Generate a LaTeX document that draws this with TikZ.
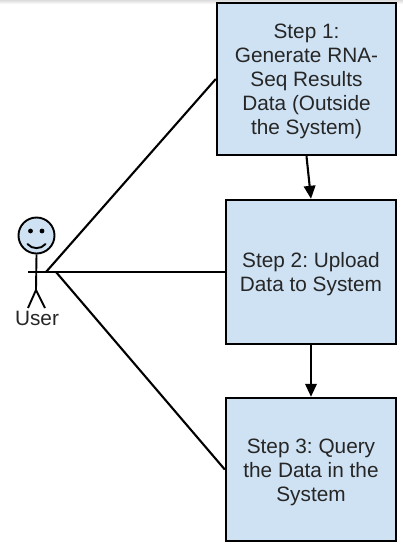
\documentclass[tikz,border=0pt]{standalone}
\usepackage{fontspec}
\setmainfont{Liberation Sans}
\usetikzlibrary{arrows.meta}
\definecolor{boxfill}{HTML}{CFE2F3}
\newcommand{\toppad}{\rule{0pt}{19.5pt}}
\tikzset{
  stepbox/.style={draw=black,line width=2.4pt,fill=boxfill,inner sep=0pt,align=center,
    font=\fontsize{20.8pt}{24pt}\selectfont\frenchspacing,text=black!85},
  link/.style={draw=black,line width=2.1pt},
  flow/.style={link,-{Triangle[length=13pt,width=11.5pt]}},
  actor/.style={draw=black,line width=1.9pt}
}
\begin{document}
\begin{tikzpicture}[x=1pt,y=-1pt]
\useasboundingbox (0,0) rectangle (403,547);
\fill[white] (0,0) rectangle (403,547);
\shade[top color=black!14,bottom color=white] (0,0) rectangle (403,4);
\node[stepbox,minimum width=179pt,minimum height=152pt] (s1) at (306.5,79) {\toppad Step 1:\\Generate RNA-\\Seq Results\\Data (Outside\\the System)};
\node[stepbox,minimum width=170pt,minimum height=144pt] (s2) at (311,272) {\toppad Step 2: Upload\\Data to System};
\node[stepbox,minimum width=170pt,minimum height=143pt] (s3) at (311,469.5) {\toppad Step 3: Query\\the Data in the\\System};
\coordinate (hand1) at (46,272);
\coordinate (hand2) at (56,272);
% actor
\node[circle,actor,fill=boxfill,minimum size=36pt,inner sep=0pt] (head) at (36.5,235.5) {};
\coordinate (hip) at (36,290);
\coordinate (armL) at (28,272);
\coordinate (armR) at (48,272);
\coordinate (footL) at (28,308);
\coordinate (footR) at (45,308);
\draw[actor] (head.south) -- (hip);
\draw[actor] (armL) -- (armR);
\draw[actor] (footL) -- (hip) -- (footR);
\fill (30.5,231) circle (2.4pt);
\fill (42,231) circle (2.4pt);
\draw[actor,line cap=round] (27.5,244) .. controls (32,249.5) and (41,249.5) .. (45.5,244);
\node[font=\fontsize{20.8pt}{24pt}\selectfont,text=black!85,inner sep=0pt] (user) at (37,318) {User};
% connectors
\draw[link] (hand1) -- (s1.west);
\draw[link] (hand1) -- (s2.west);
\draw[link] (hand2) -- (s3.west);
\draw[flow] (s1.south) -- (s2.north);
\draw[flow] (s2.south) -- (s3.north);
\end{tikzpicture}
\end{document}
